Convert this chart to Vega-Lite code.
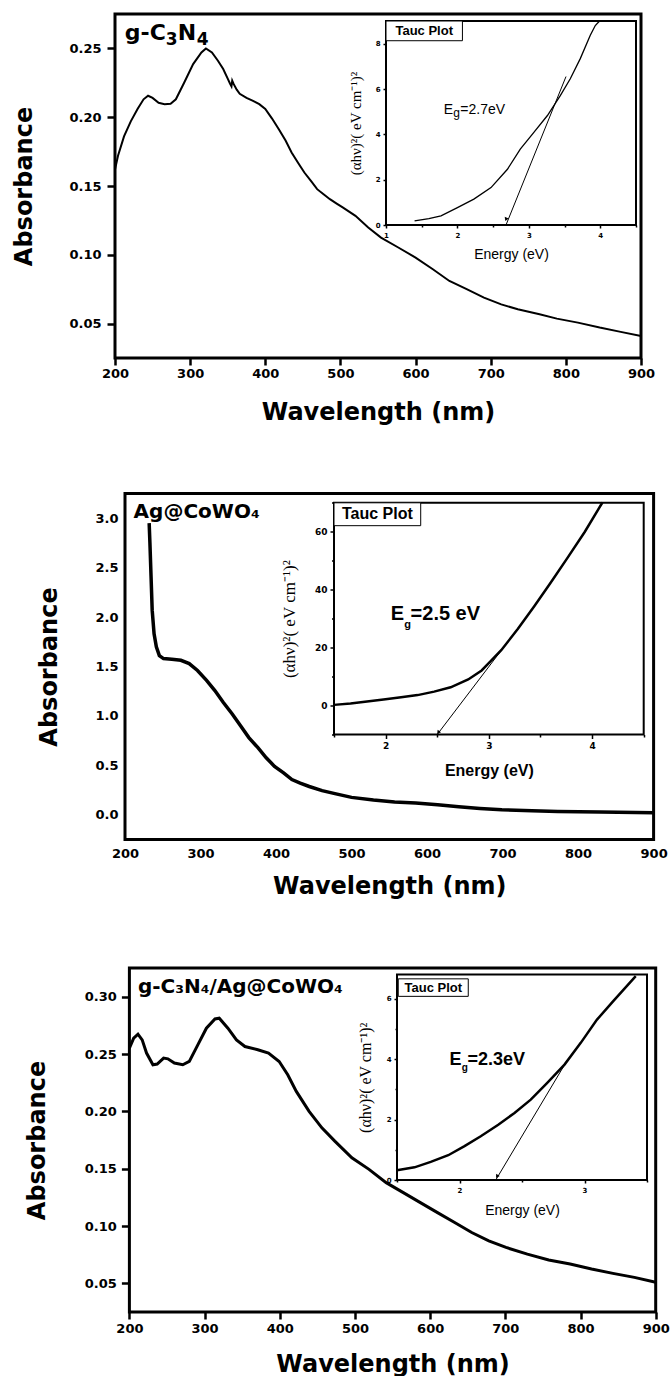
{
  "$schema": "https://vega.github.io/schema/vega-lite/v6.json",
  "background": "white",
  "padding": {"left": 12, "top": 12, "right": 0, "bottom": 0},
  "datasets": {
    "p1": [
      {"wl": 200, "a": 0.162}, {"wl": 204, "a": 0.172}, {"wl": 212, "a": 0.186}, {"wl": 221, "a": 0.197},
      {"wl": 230, "a": 0.206}, {"wl": 238, "a": 0.213}, {"wl": 244, "a": 0.2156}, {"wl": 250, "a": 0.214},
      {"wl": 258, "a": 0.2105}, {"wl": 266, "a": 0.2095}, {"wl": 274, "a": 0.2098}, {"wl": 281, "a": 0.213},
      {"wl": 292, "a": 0.225}, {"wl": 304, "a": 0.2386}, {"wl": 315, "a": 0.247}, {"wl": 321, "a": 0.25},
      {"wl": 329, "a": 0.247}, {"wl": 337, "a": 0.241}, {"wl": 344, "a": 0.235}, {"wl": 350, "a": 0.228},
      {"wl": 353, "a": 0.2245}, {"wl": 355, "a": 0.2225}, {"wl": 356, "a": 0.2265}, {"wl": 358, "a": 0.224},
      {"wl": 362, "a": 0.22}, {"wl": 366, "a": 0.217}, {"wl": 375, "a": 0.214}, {"wl": 383, "a": 0.212},
      {"wl": 392, "a": 0.2095}, {"wl": 400, "a": 0.206}, {"wl": 409, "a": 0.199}, {"wl": 418, "a": 0.1913},
      {"wl": 427, "a": 0.183}, {"wl": 435, "a": 0.1744}, {"wl": 444, "a": 0.1665}, {"wl": 452, "a": 0.1598},
      {"wl": 461, "a": 0.1535}, {"wl": 469, "a": 0.1477}, {"wl": 478, "a": 0.1438}, {"wl": 486, "a": 0.1404},
      {"wl": 495, "a": 0.1372}, {"wl": 503, "a": 0.1344}, {"wl": 520, "a": 0.1283}, {"wl": 537, "a": 0.1198},
      {"wl": 554, "a": 0.1125}, {"wl": 577, "a": 0.1053}, {"wl": 600, "a": 0.098}, {"wl": 623, "a": 0.0895},
      {"wl": 645, "a": 0.081}, {"wl": 668, "a": 0.075}, {"wl": 691, "a": 0.0689}, {"wl": 714, "a": 0.064},
      {"wl": 736, "a": 0.0604}, {"wl": 765, "a": 0.0568}, {"wl": 788, "a": 0.0536}, {"wl": 816, "a": 0.0507},
      {"wl": 845, "a": 0.0471}, {"wl": 873, "a": 0.044}, {"wl": 900, "a": 0.041}
    ],
    "p1t": [
      {"e": 1.4, "v": 0.18}, {"e": 1.6, "v": 0.28}, {"e": 1.77, "v": 0.4}, {"e": 2.0, "v": 0.77},
      {"e": 2.23, "v": 1.14}, {"e": 2.47, "v": 1.65}, {"e": 2.7, "v": 2.46}, {"e": 2.88, "v": 3.35},
      {"e": 3.07, "v": 4.09}, {"e": 3.26, "v": 4.83}, {"e": 3.44, "v": 5.71}, {"e": 3.58, "v": 6.45},
      {"e": 3.72, "v": 7.34}, {"e": 3.86, "v": 8.37}, {"e": 3.93, "v": 8.8}, {"e": 3.99, "v": 9.0}
    ],
    "p1g": [{"e": 2.68, "v": 0}, {"e": 3.52, "v": 6.55}],
    "p2": [
      {"wl": 232, "a": 2.95}, {"wl": 233, "a": 2.75}, {"wl": 234.5, "a": 2.41}, {"wl": 236, "a": 2.07},
      {"wl": 238.5, "a": 1.83}, {"wl": 241.5, "a": 1.7}, {"wl": 245.5, "a": 1.61}, {"wl": 251, "a": 1.58},
      {"wl": 262, "a": 1.573}, {"wl": 274, "a": 1.563}, {"wl": 285, "a": 1.53}, {"wl": 296, "a": 1.46},
      {"wl": 308, "a": 1.36}, {"wl": 319, "a": 1.257}, {"wl": 330, "a": 1.138}, {"wl": 342, "a": 1.019},
      {"wl": 353, "a": 0.9}, {"wl": 364, "a": 0.781}, {"wl": 376, "a": 0.679}, {"wl": 387, "a": 0.577},
      {"wl": 398, "a": 0.49}, {"wl": 410, "a": 0.424}, {"wl": 421, "a": 0.356}, {"wl": 432, "a": 0.32},
      {"wl": 444, "a": 0.286}, {"wl": 461, "a": 0.244}, {"wl": 478, "a": 0.214}, {"wl": 500, "a": 0.176},
      {"wl": 529, "a": 0.149}, {"wl": 557, "a": 0.129}, {"wl": 585, "a": 0.119}, {"wl": 614, "a": 0.102},
      {"wl": 642, "a": 0.081}, {"wl": 670, "a": 0.064}, {"wl": 699, "a": 0.051}, {"wl": 739, "a": 0.041},
      {"wl": 773, "a": 0.034}, {"wl": 829, "a": 0.027}, {"wl": 900, "a": 0.02}
    ],
    "p2t": [
      {"e": 1.5, "v": 0.23}, {"e": 1.66, "v": 0.7}, {"e": 1.82, "v": 1.4}, {"e": 1.98, "v": 2.1},
      {"e": 2.15, "v": 2.9}, {"e": 2.31, "v": 3.6}, {"e": 2.47, "v": 4.8}, {"e": 2.63, "v": 6.3},
      {"e": 2.8, "v": 9.0}, {"e": 2.93, "v": 12.1}, {"e": 3.02, "v": 15.4}, {"e": 3.12, "v": 19.1},
      {"e": 3.28, "v": 26.4}, {"e": 3.44, "v": 34.3}, {"e": 3.6, "v": 42.5}, {"e": 3.76, "v": 50.9},
      {"e": 3.93, "v": 60.0}, {"e": 4.1, "v": 70.1}
    ],
    "p2g": [{"e": 2.5, "v": -10}, {"e": 3.13, "v": 19.5}],
    "p3": [
      {"wl": 200, "a": 0.255}, {"wl": 205.7, "a": 0.2638}, {"wl": 211.4, "a": 0.2673}, {"wl": 217, "a": 0.2623},
      {"wl": 222.8, "a": 0.2508}, {"wl": 231.3, "a": 0.2406}, {"wl": 237, "a": 0.2412}, {"wl": 245.5, "a": 0.2464},
      {"wl": 251.2, "a": 0.2458}, {"wl": 259.8, "a": 0.2421}, {"wl": 271, "a": 0.2406}, {"wl": 279.7, "a": 0.2435},
      {"wl": 291, "a": 0.258}, {"wl": 302.4, "a": 0.2725}, {"wl": 313.8, "a": 0.2806}, {"wl": 319.5, "a": 0.2812},
      {"wl": 331, "a": 0.2725}, {"wl": 342.4, "a": 0.2623}, {"wl": 353.7, "a": 0.2565}, {"wl": 370.8, "a": 0.2537},
      {"wl": 385, "a": 0.2508}, {"wl": 399.2, "a": 0.2435}, {"wl": 410.6, "a": 0.2319}, {"wl": 422, "a": 0.2174},
      {"wl": 439, "a": 0.2}, {"wl": 456, "a": 0.1856}, {"wl": 473.2, "a": 0.174}, {"wl": 495.9, "a": 0.1595},
      {"wl": 518.7, "a": 0.1494}, {"wl": 541.5, "a": 0.1378}, {"wl": 564.3, "a": 0.1291}, {"wl": 587, "a": 0.1204},
      {"wl": 609.8, "a": 0.1117}, {"wl": 632.6, "a": 0.103}, {"wl": 655.3, "a": 0.0943}, {"wl": 678, "a": 0.0871},
      {"wl": 700.9, "a": 0.0813}, {"wl": 729.3, "a": 0.0755}, {"wl": 757.7, "a": 0.0703}, {"wl": 786.2, "a": 0.0668},
      {"wl": 814.7, "a": 0.0625}, {"wl": 843.1, "a": 0.0587}, {"wl": 871.6, "a": 0.0552}, {"wl": 900, "a": 0.0509}
    ],
    "p3t": [
      {"e": 1.5, "v": 0.32}, {"e": 1.64, "v": 0.42}, {"e": 1.77, "v": 0.6}, {"e": 1.91, "v": 0.82},
      {"e": 2.04, "v": 1.12}, {"e": 2.17, "v": 1.45}, {"e": 2.31, "v": 1.83}, {"e": 2.44, "v": 2.22},
      {"e": 2.57, "v": 2.66}, {"e": 2.7, "v": 3.21}, {"e": 2.84, "v": 3.82}, {"e": 2.97, "v": 4.54},
      {"e": 3.1, "v": 5.31}, {"e": 3.23, "v": 5.92}, {"e": 3.41, "v": 6.75}
    ],
    "p3g": [{"e": 2.29, "v": 0}, {"e": 2.86, "v": 3.95}],
    "one": [{}]
  },
  "columns": 1,
  "spacing": 67.5,
  "align": {"row": "none", "column": "all"},
  "concat": [
    {
      "width": 541, "height": 344,
      "layer": [
        {"layer": [
          {"data": {"name": "p1"}, "mark": {"type": "line", "color": "black", "strokeWidth": 2, "clip": true},
           "encoding": {
             "x": {"field": "wl", "type": "quantitative", "scale": {"domain": [200, 900], "range": [0, 526], "nice": false, "zero": false},
                   "axis": {"orient": "bottom", "values": [200,250,300,350,400,450,500,550,600,650,700,750,800,850,900], "labelExpr": "datum.value % 100 === 0 ? datum.label : ''", "labelOverlap": false, "labelFlush": false, "tickSize": {"condition": {"test": "datum.value % 100 !== 0", "value": 4}, "value": 7}, "tickWidth": 2.5, "labelFont": "DejaVu Sans", "labelFontWeight": "bold", "labelFontSize": 13, "labelPadding": 2, "title": "Wavelength (nm)", "titleFont": "DejaVu Sans", "titleFontWeight": "bold", "titleFontSize": 24, "titlePadding": 20}},
             "y": {"field": "a", "type": "quantitative", "scale": {"domain": [0.025, 0.275], "nice": false, "zero": false},
                   "axis": {"orient": "left", "values": [0.05, 0.1, 0.15, 0.2, 0.25], "format": ".2f", "labelOverlap": false, "tickSize": 8, "tickWidth": 2.5, "labelFont": "DejaVu Sans", "labelFontWeight": "bold", "labelFontSize": 13, "labelPadding": 6, "title": "Absorbance", "titleFont": "DejaVu Sans", "titleFontWeight": "bold", "titleFontSize": 24, "titlePadding": 32}}
           }},
          {"data": {"name": "one"}, "mark": {"type": "rect", "fill": "transparent", "stroke": "black", "strokeWidth": 3},
           "encoding": {"x": {"datum": 200}, "x2": {"datum": 900}, "y": {"datum": 0.025}, "y2": {"datum": 0.275}}},
          {"data": {"name": "one"}, "mark": {"type": "text", "text": "g-C", "align": "left", "baseline": "alphabetic", "font": "DejaVu Sans", "fontWeight": "bold", "fontSize": 22, "color": "black"},
           "encoding": {"x": {"datum": 213}, "y": {"datum": 0.256}}},
          {"data": {"name": "one"}, "mark": {"type": "text", "text": "3", "align": "left", "baseline": "alphabetic", "font": "DejaVu Sans", "fontWeight": "bold", "fontSize": 17, "color": "black", "dx": 41, "dy": 5},
           "encoding": {"x": {"datum": 213}, "y": {"datum": 0.256}}},
          {"data": {"name": "one"}, "mark": {"type": "text", "text": "N", "align": "left", "baseline": "alphabetic", "font": "DejaVu Sans", "fontWeight": "bold", "fontSize": 22, "color": "black", "dx": 53},
           "encoding": {"x": {"datum": 213}, "y": {"datum": 0.256}}},
          {"data": {"name": "one"}, "mark": {"type": "text", "text": "4", "align": "left", "baseline": "alphabetic", "font": "DejaVu Sans", "fontWeight": "bold", "fontSize": 17, "color": "black", "dx": 72, "dy": 5},
           "encoding": {"x": {"datum": 213}, "y": {"datum": 0.256}}}
        ]},
        {"layer": [
          {"data": {"name": "one"}, "mark": {"type": "rect", "fill": "white", "stroke": "black", "strokeWidth": 2},
           "encoding": {
             "x": {"datum": 1, "scale": {"domain": [1, 4.5], "range": [271, 521], "nice": false, "zero": false},
                   "axis": {"orient": "bottom", "offset": -133, "values": [1,1.5,2,2.5,3,3.5,4,4.5], "format": ".0f", "labelExpr": "datum.value % 1 === 0 ? datum.label : ''", "labelOverlap": false, "labelFlush": false, "tickSize": {"condition": {"test": "datum.value % 1 !== 0", "value": 2}, "value": 3}, "tickWidth": 1.5, "labelFont": "DejaVu Sans", "labelFontWeight": "bold", "labelFontSize": 7, "labelPadding": 3, "title": "Energy (eV)", "titleFont": "Liberation Sans", "titleFontWeight": "normal", "titleFontSize": 14, "titlePadding": 9}},
             "x2": {"datum": 4.5},
             "y": {"datum": 0, "scale": {"domain": [0, 9], "range": [211, 7], "nice": false, "zero": false},
                   "axis": {"orient": "left", "offset": -271, "values": [0,1,2,3,4,5,6,7,8,9], "format": ".0f", "labelExpr": "datum.value % 2 === 0 ? datum.label : ''", "labelOverlap": false, "tickSize": {"condition": {"test": "datum.value % 2 !== 0", "value": 2}, "value": 3}, "tickWidth": 1.5, "labelFont": "DejaVu Sans", "labelFontWeight": "bold", "labelFontSize": 7, "labelPadding": 3, "title": "(αhν)²( eV cm⁻¹)²", "titleFont": "Liberation Serif", "titleFontWeight": "normal", "titleFontSize": 15, "titlePadding": 12}},
             "y2": {"datum": 9}
           }},
          {"data": {"name": "p1t"}, "mark": {"type": "line", "color": "black", "strokeWidth": 1.3, "clip": true},
           "encoding": {"x": {"field": "e", "type": "quantitative"}, "y": {"field": "v", "type": "quantitative"}}},
          {"data": {"name": "p1g"}, "mark": {"type": "line", "color": "black", "strokeWidth": 1},
           "encoding": {"x": {"field": "e", "type": "quantitative"}, "y": {"field": "v", "type": "quantitative"}}},
          {"data": {"name": "one"}, "mark": {"type": "point", "shape": "triangle-down", "filled": true, "color": "black", "size": 18, "angle": 22, "opacity": 1},
           "encoding": {"x": {"datum": 2.68}, "y": {"datum": 0.25}}},
          {"data": {"name": "one"}, "mark": {"type": "rect", "fill": "white", "stroke": "black", "strokeWidth": 1},
           "encoding": {"x": {"datum": 1}, "x2": {"datum": 2.07}, "y": {"datum": 8.13}, "y2": {"datum": 9}}},
          {"data": {"name": "one"}, "mark": {"type": "text", "text": "Tauc Plot", "align": "center", "baseline": "middle", "font": "Liberation Sans", "fontWeight": "bold", "fontSize": 13, "color": "black"},
           "encoding": {"x": {"datum": 1.535}, "y": {"datum": 8.55}}},
          {"data": {"name": "one"}, "mark": {"type": "text", "text": "E", "align": "left", "baseline": "alphabetic", "font": "Liberation Sans", "fontSize": 14, "color": "black"},
           "encoding": {"x": {"datum": 1.81}, "y": {"datum": 4.9}}},
          {"data": {"name": "one"}, "mark": {"type": "text", "text": "g", "align": "left", "baseline": "alphabetic", "font": "Liberation Sans", "fontSize": 12, "color": "black", "dx": 9.5, "dy": 3},
           "encoding": {"x": {"datum": 1.81}, "y": {"datum": 4.9}}},
          {"data": {"name": "one"}, "mark": {"type": "text", "text": "=2.7eV", "align": "left", "baseline": "alphabetic", "font": "Liberation Sans", "fontSize": 14, "color": "black", "dx": 16.5},
           "encoding": {"x": {"datum": 1.81}, "y": {"datum": 4.9}}}
        ]}
      ],
      "resolve": {"scale": {"x": "independent", "y": "independent"}, "axis": {"x": "independent", "y": "independent"}}
    },
    {
      "width": 541, "height": 346,
      "layer": [
        {"layer": [
          {"data": {"name": "p2"}, "mark": {"type": "line", "color": "black", "strokeWidth": 3.5, "clip": true},
           "encoding": {
             "x": {"field": "wl", "type": "quantitative", "scale": {"domain": [200, 900], "range": [10, 538.6], "nice": false, "zero": false},
                   "axis": {"orient": "bottom", "values": [200,300,400,500,600,700,800,900], "labelOverlap": false, "labelFlush": false, "ticks": false, "labelFont": "DejaVu Sans", "labelFontWeight": "bold", "labelFontSize": 13, "labelPadding": 8, "title": "Wavelength (nm)", "titleFont": "DejaVu Sans", "titleFontWeight": "bold", "titleFontSize": 24, "titlePadding": 14}},
             "y": {"field": "a", "type": "quantitative", "scale": {"domain": [-0.25, 3.25], "nice": false, "zero": false},
                   "axis": {"orient": "left", "offset": -10, "values": [0, 0.5, 1, 1.5, 2, 2.5, 3], "format": ".1f", "labelOverlap": false, "ticks": false, "labelFont": "DejaVu Sans", "labelFontWeight": "bold", "labelFontSize": 13, "labelPadding": 7, "title": "Absorbance", "titleFont": "DejaVu Sans", "titleFontWeight": "bold", "titleFontSize": 24, "titlePadding": 33}}
           }},
          {"data": {"name": "one"}, "mark": {"type": "rect", "fill": "transparent", "stroke": "black", "strokeWidth": 3},
           "encoding": {"x": {"datum": 200}, "x2": {"datum": 900}, "y": {"datum": -0.25}, "y2": {"datum": 3.25}}},
          {"data": {"name": "one"}, "mark": {"type": "text", "text": "Ag@CoWO₄", "align": "left", "baseline": "alphabetic", "font": "DejaVu Sans", "fontWeight": "bold", "fontSize": 20, "color": "black"},
           "encoding": {"x": {"datum": 211.4}, "y": {"datum": 3.0}}}
        ]},
        {"layer": [
          {"data": {"name": "one"}, "mark": {"type": "rect", "fill": "white", "stroke": "black", "strokeWidth": 2},
           "encoding": {
             "x": {"datum": 1.5, "scale": {"domain": [1.5, 4.5], "range": [219, 528.7], "nice": false, "zero": false},
                   "axis": {"orient": "bottom", "offset": -105, "values": [1.5,2,2.5,3,3.5,4,4.5], "format": ".0f", "labelExpr": "datum.value % 1 === 0 ? datum.label : ''", "labelOverlap": false, "labelFlush": false, "tickSize": {"condition": {"test": "datum.value % 1 !== 0", "value": 2.5}, "value": 4}, "tickWidth": 1.5, "labelFont": "DejaVu Sans", "labelFontWeight": "bold", "labelFontSize": 9, "labelPadding": 3, "title": "Energy (eV)", "titleFont": "Liberation Sans", "titleFontWeight": "bold", "titleFontSize": 16, "titlePadding": 12}},
             "x2": {"datum": 4.5},
             "y": {"datum": -10, "scale": {"domain": [-10, 70], "range": [241, 9.3], "nice": false, "zero": false},
                   "axis": {"orient": "left", "offset": -219, "values": [-10,0,10,20,30,40,50,60,70], "format": ".0f", "labelExpr": "datum.value % 20 === 0 ? datum.label : ''", "labelOverlap": false, "tickSize": {"condition": {"test": "datum.value % 20 !== 0", "value": 2.5}, "value": 4}, "tickWidth": 1.5, "labelFont": "DejaVu Sans", "labelFontWeight": "bold", "labelFontSize": 9, "labelPadding": 3, "title": "(αhν)²( eV cm⁻¹)²", "titleFont": "Liberation Serif", "titleFontWeight": "normal", "titleFontSize": 17, "titlePadding": 16}},
             "y2": {"datum": 70}
           }},
          {"data": {"name": "p2t"}, "mark": {"type": "line", "color": "black", "strokeWidth": 2.5, "clip": true},
           "encoding": {"x": {"field": "e", "type": "quantitative"}, "y": {"field": "v", "type": "quantitative"}}},
          {"data": {"name": "p2g"}, "mark": {"type": "line", "color": "black", "strokeWidth": 1},
           "encoding": {"x": {"field": "e", "type": "quantitative"}, "y": {"field": "v", "type": "quantitative"}}},
          {"data": {"name": "one"}, "mark": {"type": "point", "shape": "triangle-down", "filled": true, "color": "black", "size": 18, "angle": 37, "opacity": 1},
           "encoding": {"x": {"datum": 2.51}, "y": {"datum": -9.3}}},
          {"data": {"name": "one"}, "mark": {"type": "rect", "fill": "white", "stroke": "black", "strokeWidth": 1},
           "encoding": {"x": {"datum": 1.5}, "x2": {"datum": 2.34}, "y": {"datum": 62.1}, "y2": {"datum": 70}}},
          {"data": {"name": "one"}, "mark": {"type": "text", "text": "Tauc Plot", "align": "center", "baseline": "middle", "font": "Liberation Sans", "fontWeight": "bold", "fontSize": 16, "color": "black"},
           "encoding": {"x": {"datum": 1.92}, "y": {"datum": 66}}},
          {"data": {"name": "one"}, "mark": {"type": "text", "text": "E", "align": "left", "baseline": "alphabetic", "font": "Liberation Sans", "fontWeight": "bold", "fontSize": 20, "color": "black"},
           "encoding": {"x": {"datum": 2.05}, "y": {"datum": 29.4}}},
          {"data": {"name": "one"}, "mark": {"type": "text", "text": "g", "align": "left", "baseline": "alphabetic", "font": "Liberation Sans", "fontWeight": "bold", "fontSize": 11, "color": "black", "dx": 13.5, "dy": 8},
           "encoding": {"x": {"datum": 2.05}, "y": {"datum": 29.4}}},
          {"data": {"name": "one"}, "mark": {"type": "text", "text": "=2.5 eV", "align": "left", "baseline": "alphabetic", "font": "Liberation Sans", "fontWeight": "bold", "fontSize": 20, "color": "black", "dx": 19.8},
           "encoding": {"x": {"datum": 2.05}, "y": {"datum": 29.4}}}
        ]}
      ],
      "resolve": {"scale": {"x": "independent", "y": "independent"}, "axis": {"x": "independent", "y": "independent"}}
    },
    {
      "width": 541, "height": 344,
      "layer": [
        {"layer": [
          {"data": {"name": "p3"}, "mark": {"type": "line", "color": "black", "strokeWidth": 3, "clip": true},
           "encoding": {
             "x": {"field": "wl", "type": "quantitative", "scale": {"domain": [200, 900], "range": [14.4, 540.7], "nice": false, "zero": false},
                   "axis": {"orient": "bottom", "values": [200,250,300,350,400,450,500,550,600,650,700,750,800,850,900], "labelExpr": "datum.value % 100 === 0 ? datum.label : ''", "labelOverlap": false, "labelFlush": false, "tickSize": {"condition": {"test": "datum.value % 100 !== 0", "value": 4}, "value": 7}, "tickWidth": 2.5, "labelFont": "DejaVu Sans", "labelFontWeight": "bold", "labelFontSize": 13, "labelPadding": 3, "title": "Wavelength (nm)", "titleFont": "DejaVu Sans", "titleFontWeight": "bold", "titleFontSize": 24, "titlePadding": 17}},
             "y": {"field": "a", "type": "quantitative", "scale": {"domain": [0.025, 0.325], "nice": false, "zero": false},
                   "axis": {"orient": "left", "offset": -14.4, "values": [0.05, 0.1, 0.15, 0.2, 0.25, 0.3], "format": ".2f", "labelOverlap": false, "tickSize": 8, "tickWidth": 2.5, "labelFont": "DejaVu Sans", "labelFontWeight": "bold", "labelFontSize": 13, "labelPadding": 5, "title": "Absorbance", "titleFont": "DejaVu Sans", "titleFontWeight": "bold", "titleFontSize": 24, "titlePadding": 35}}
           }},
          {"data": {"name": "one"}, "mark": {"type": "rect", "fill": "transparent", "stroke": "black", "strokeWidth": 3},
           "encoding": {"x": {"datum": 200}, "x2": {"datum": 900}, "y": {"datum": 0.025}, "y2": {"datum": 0.325}}},
          {"data": {"name": "one"}, "mark": {"type": "text", "text": "g-C₃N₄/Ag@CoWO₄", "align": "left", "baseline": "alphabetic", "font": "DejaVu Sans", "fontWeight": "bold", "fontSize": 20, "color": "black"},
           "encoding": {"x": {"datum": 211.4}, "y": {"datum": 0.303}}}
        ]},
        {"layer": [
          {"data": {"name": "one"}, "mark": {"type": "rect", "fill": "white", "stroke": "black", "strokeWidth": 2},
           "encoding": {
             "x": {"datum": 1.5, "scale": {"domain": [1.5, 3.5], "range": [282, 532], "nice": false, "zero": false},
                   "axis": {"orient": "bottom", "offset": -132, "values": [1.5,2,2.5,3,3.5], "format": ".0f", "labelExpr": "datum.value % 1 === 0 ? datum.label : ''", "labelOverlap": false, "labelFlush": false, "tickSize": {"condition": {"test": "datum.value % 1 !== 0", "value": 2}, "value": 3}, "tickWidth": 1.5, "labelFont": "DejaVu Sans", "labelFontWeight": "bold", "labelFontSize": 7, "labelPadding": 3, "title": "Energy (eV)", "titleFont": "Liberation Sans", "titleFontWeight": "normal", "titleFontSize": 14, "titlePadding": 10}},
             "x2": {"datum": 3.5},
             "y": {"datum": 0, "scale": {"domain": [0, 6.8], "range": [212, 6.6], "nice": false, "zero": false},
                   "axis": {"orient": "left", "offset": -282, "values": [0,1,2,3,4,5,6], "format": ".0f", "labelExpr": "datum.value % 2 === 0 ? datum.label : ''", "labelOverlap": false, "tickSize": {"condition": {"test": "datum.value % 2 !== 0", "value": 2}, "value": 3}, "tickWidth": 1.5, "labelFont": "DejaVu Sans", "labelFontWeight": "bold", "labelFontSize": 7, "labelPadding": 3, "title": "(αhν)²( eV cm⁻¹)²", "titleFont": "Liberation Serif", "titleFontWeight": "normal", "titleFontSize": 16, "titlePadding": 13}},
             "y2": {"datum": 6.8}
           }},
          {"data": {"name": "p3t"}, "mark": {"type": "line", "color": "black", "strokeWidth": 2.5, "clip": true},
           "encoding": {"x": {"field": "e", "type": "quantitative"}, "y": {"field": "v", "type": "quantitative"}}},
          {"data": {"name": "p3g"}, "mark": {"type": "line", "color": "black", "strokeWidth": 1},
           "encoding": {"x": {"field": "e", "type": "quantitative"}, "y": {"field": "v", "type": "quantitative"}}},
          {"data": {"name": "one"}, "mark": {"type": "point", "shape": "triangle-down", "filled": true, "color": "black", "size": 18, "angle": 31, "opacity": 1},
           "encoding": {"x": {"datum": 2.3}, "y": {"datum": 0.12}}},
          {"data": {"name": "one"}, "mark": {"type": "rect", "fill": "white", "stroke": "black", "strokeWidth": 1},
           "encoding": {"x": {"datum": 1.51}, "x2": {"datum": 2.07}, "y": {"datum": 6.08}, "y2": {"datum": 6.66}}},
          {"data": {"name": "one"}, "mark": {"type": "text", "text": "Tauc Plot", "align": "center", "baseline": "middle", "font": "Liberation Sans", "fontWeight": "bold", "fontSize": 13, "color": "black"},
           "encoding": {"x": {"datum": 1.79}, "y": {"datum": 6.37}}},
          {"data": {"name": "one"}, "mark": {"type": "text", "text": "E", "align": "left", "baseline": "alphabetic", "font": "Liberation Sans", "fontWeight": "bold", "fontSize": 18, "color": "black"},
           "encoding": {"x": {"datum": 1.92}, "y": {"datum": 3.81}}},
          {"data": {"name": "one"}, "mark": {"type": "text", "text": "g", "align": "left", "baseline": "alphabetic", "font": "Liberation Sans", "fontWeight": "bold", "fontSize": 10, "color": "black", "dx": 12.2, "dy": 6},
           "encoding": {"x": {"datum": 1.92}, "y": {"datum": 3.81}}},
          {"data": {"name": "one"}, "mark": {"type": "text", "text": "=2.3eV", "align": "left", "baseline": "alphabetic", "font": "Liberation Sans", "fontWeight": "bold", "fontSize": 18, "color": "black", "dx": 18},
           "encoding": {"x": {"datum": 1.92}, "y": {"datum": 3.81}}}
        ]}
      ],
      "resolve": {"scale": {"x": "independent", "y": "independent"}, "axis": {"x": "independent", "y": "independent"}}
    }
  ],
  "config": {
    "view": {"stroke": null},
    "axis": {"grid": false, "domain": false, "labelColor": "black", "tickColor": "black", "titleColor": "black"}
  }
}
